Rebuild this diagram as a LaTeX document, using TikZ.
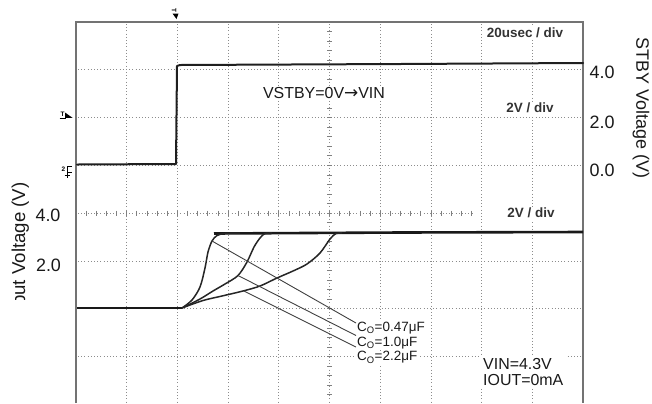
\documentclass[tikz,border=0pt]{standalone}
\usepackage{fontspec}
\setmainfont{Liberation Sans}
\newfontfamily\arrowfont{DejaVu Sans}
\begin{document}
\begin{tikzpicture}[x=1bp,y=-1bp,
  grid/.style={draw=black!45, line width=0.8bp, dash pattern=on 0.9bp off 2.3bp},
  tickmark/.style={draw=black!50, line width=0.8bp},
  frameline/.style={draw=black!55, line width=1.6bp},
  trace/.style={draw=black!88, line width=2bp, line join=round, line cap=round},
  basetrace/.style={draw=black!90, line width=2.6bp, line join=round},
  curvetrace/.style={draw=black!85, line width=1.5bp, line join=round},
  leader/.style={draw=black!75, line width=0.9bp},
  axlbl/.style={font=\fontsize{18}{20}\selectfont, inner sep=0pt, text=black!90},
  note/.style={font=\fontsize{16}{18}\selectfont, inner sep=1pt, fill=white, text=black!90},
  div/.style={font=\fontsize{13.5}{15}\selectfont\bfseries, inner sep=1.5pt, fill=white, text=black!80},
  caplbl/.style={font=\fontsize{13.5}{15}\selectfont, inner sep=1pt, fill=white, anchor=west, text=black!90},
  marker/.style={font=\fontsize{6.5}{6.5}\selectfont\bfseries, inner sep=0pt}
]
\useasboundingbox (0,0) rectangle (652,403);
% grid
\foreach \i in {1,2,3,4,6,7,8,9}
  \draw[grid] ({76+\i*50.7},24) -- ({76+\i*50.7},403);
\foreach \j in {1,2,3,5,6,7}
  \draw[grid] (78,{22+\j*47.8}) -- (582,{22+\j*47.8});
% central ticked axes
\draw[grid] (329.5,24) -- (329.5,403);
\foreach \k in {1,...,39}
  \draw[tickmark] (327,{22+\k*9.56}) -- (332,{22+\k*9.56});
\draw[grid] (78,213.2) -- (472,213.2);
\foreach \k in {1,...,39}
  \draw[tickmark] ({76+\k*10.14},210.7) -- ({76+\k*10.14},215.7);
% frame
\draw[frameline] (76,403) -- (76,22) -- (583,22) -- (583,403);
% texts inside the screen
\node[div] (tdiv) at (525,33) {20usec / div};
\node[div] (v1div) at (530,108) {2V / div};
\node[div] (v2div) at (531,213) {2V / div};
\node[note] (vstby) at (324,93) {VSTBY=0V{\arrowfont\fontsize{17}{18}\selectfont →}VIN};
\node[note, align=left, anchor=north west, inner sep=2pt] (cond) at (481,356) {VIN=4.3V\\[-2pt]IOUT=0mA};
% STBY trace
\draw[trace] (77,164.5) -- (176,164) -- (177,66) -- (180,65) -- (400,64) -- (583,63);
% output traces
\draw[basetrace] (77,308) -- (182,308);
\draw[basetrace] (214,233.5) -- (400,232.5) -- (583,232);
\draw[curvetrace] plot[smooth] coordinates {(182,308) (192,300) (200,287) (205,268) (208,252) (212,241) (217,235.5) (225,233.5) (240,233)};
\draw[curvetrace] plot[smooth] coordinates {(182,308) (200,299) (213,291) (225,284) (238,275.5) (247,262) (254,247) (260,238) (265,233.5) (272,233)};
\draw[curvetrace] plot[smooth] coordinates {(182,308) (203,300.5) (222,296) (243,291) (260,286) (277,278) (293,271) (307,264) (320,253) (330,239) (336,233.5) (342,233)};
% leader lines
\coordinate (p1) at (212,241);
\coordinate (p2) at (238,275.5);
\coordinate (p3) at (244,291);
\node[caplbl] (c1) at (356,328) {C\textsubscript{O}=0.47μF};
\node[caplbl] (c2) at (356,343) {C\textsubscript{O}=1.0μF};
\node[caplbl] (c3) at (356,357.5) {C\textsubscript{O}=2.2μF};
\draw[leader] (p1) -- (c1.west |- 0,323);
\draw[leader] (p2) -- (c2.west |- 0,335.5);
\draw[leader] (p3) -- (c3.west |- 0,347);
% markers
\node[marker, rotate=-90] (tm) at (174,10) {T};
\fill (172.5,13.5) -- (178.5,13.5) -- (176.5,19) -- cycle;
\node[marker] (tl) at (62.5,114) {T};
\draw[line width=0.6bp] (59.5,117.8) -- (66,117.8);
\fill (65,112.5) -- (72.5,117.8) -- (65,118) -- cycle;
\node[marker] (gm) at (63.5,169.5) {2};
\draw[line width=0.9bp] (72,166.5) -- (67,166.5) -- (67,172.5) -- (72,172.5);
\draw[line width=0.7bp] (67,172.5) -- (67,177.5) (64.5,175.5) -- (69.5,175.5);
% axis labels
\node[axlbl] (r40) at (602,72) {4.0};
\node[axlbl] (r20) at (602,122.5) {2.0};
\node[axlbl] (r00) at (602,170) {0.0};
\node[axlbl, rotate=-90] (rtitle) at (641,108) {STBY Voltage (V)};
\node[axlbl] (l40) at (48,215) {4.0};
\node[axlbl] (l20) at (48.5,265) {2.0};
\node[axlbl, font=\fontsize{18.7}{20}\selectfont, rotate=90, anchor=base west] (ltitle) at (25,336) {Output Voltage (V)};
\fill[white] (0,300.2) rectangle (32,403);
\end{tikzpicture}
\end{document}
